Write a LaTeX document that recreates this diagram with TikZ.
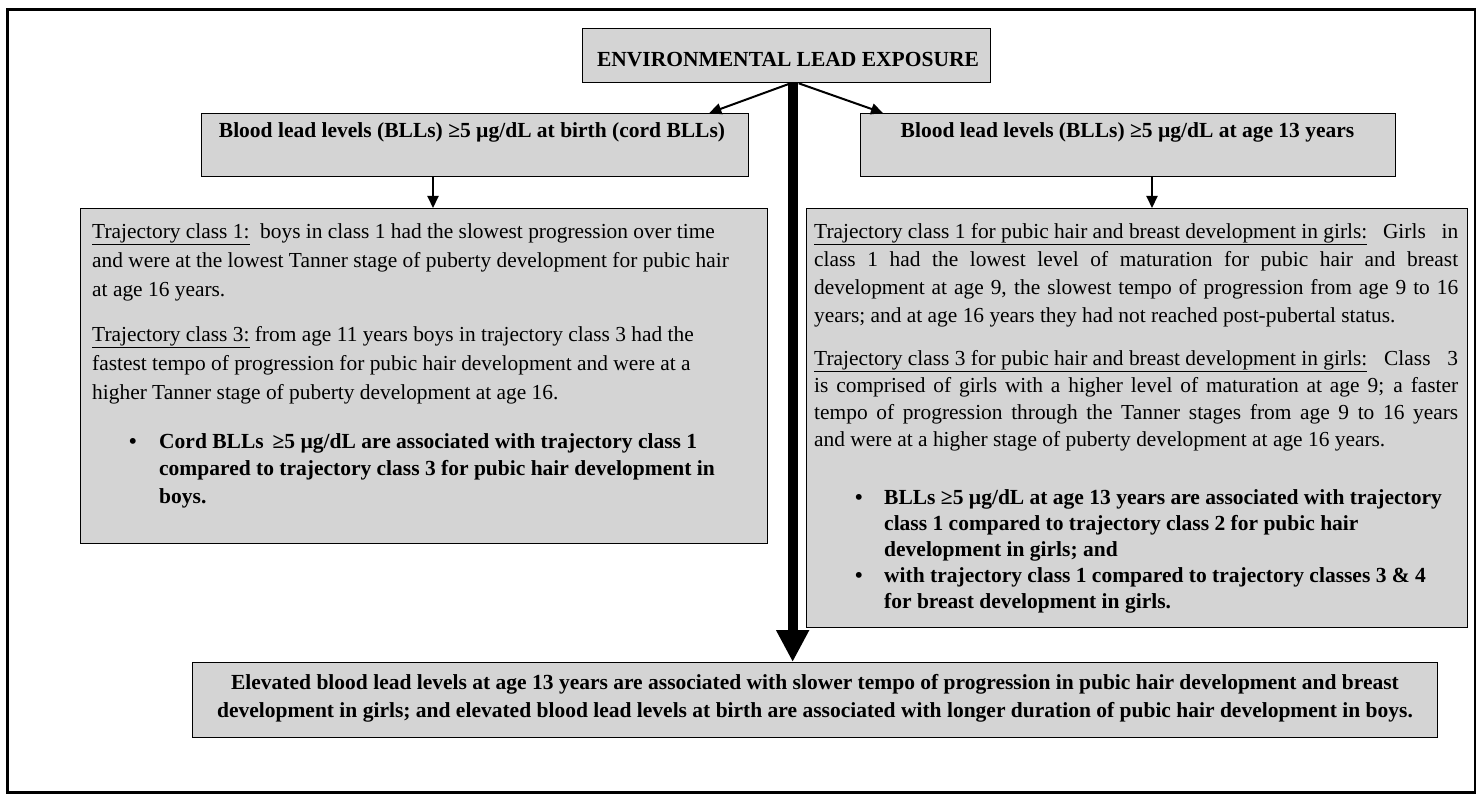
\documentclass[tikz,border=0pt]{standalone}
\usepackage{fontspec}
\setmainfont{Liberation Serif}
\usetikzlibrary{arrows.meta}
\newcommand{\bodyfs}{\fontsize{21.4}{29}\selectfont}
\newcommand{\boldfs}{\fontsize{21.5}{29}\selectfont\bfseries}
\newcommand{\jR}[1]{\makebox[644pt][s]{#1}}
\begin{document}
\begin{tikzpicture}[x=1pt,y=-1pt,
  box/.style={draw=black, line width=1.3pt, fill=black!17, inner sep=0pt, anchor=north west},
  ln/.style={anchor=base west, inner sep=0pt, font=\bodyfs},
  lnb/.style={anchor=base west, inner sep=0pt, font=\boldfs},
  ctr/.style={anchor=base, inner sep=0pt, font=\boldfs},
  arr/.style={line width=2pt, -{Triangle[length=12pt,width=11pt]}},
  bigarr/.style={line width=10pt, -{Triangle[length=32pt,width=31pt]}}
]
\useasboundingbox (0,0) rectangle (1476,797);
\node[draw=black, line width=3pt, minimum width=1468pt, minimum height=782pt, anchor=north west, inner sep=0pt] (frame) at (5.5,8.5) {};
% boxes
\node[box, minimum width=408pt, minimum height=54pt] (title) at (582,28) {};
\node[box, minimum width=547pt, minimum height=63pt] (ls) at (201,113) {};
\node[box, minimum width=535pt, minimum height=63pt] (rs) at (860,113) {};
\node[box, minimum width=687pt, minimum height=335pt] (lb) at (80,208) {};
\node[box, minimum width=661pt, minimum height=419pt] (rb) at (806,208) {};
\node[box, minimum width=1245pt, minimum height=75pt] (bot) at (192,662) {};
% titles
\node[ctr] (tt) at (788,67) {ENVIRONMENTAL LEAD EXPOSURE};
\node[ctr] (lst) at (472,138) {Blood lead levels (BLLs) ≥5 µg/dL at birth (cord BLLs)};
\node[ctr] (rst) at (1127.5,138) {Blood lead levels (BLLs) ≥5 µg/dL at age 13 years};
% left big box
\node[ln] (l1) at (92,238) {\underline{Trajectory class 1:}\ \ boys in class 1 had the slowest progression over time};
\node[ln] (l2) at (92,267) {and were at the lowest Tanner stage of puberty development for pubic hair};
\node[ln] (l3) at (92,296) {at age 16 years.};
\node[ln] (l4) at (92,341) {\underline{Trajectory class 3:} from age 11 years boys in trajectory class 3 had the};
\node[ln] (l5) at (92,370) {fastest tempo of progression for pubic hair development and were at a};
\node[ln] (l6) at (92,399) {higher Tanner stage of puberty development at age 16.};
\node[lnb] (l7d) at (129,448) {•};
\node[lnb] (l7) at (159,448) {Cord BLLs \,≥5 µg/dL are associated with trajectory class 1};
\node[lnb] (l8) at (159,475.5) {compared to trajectory class 3 for pubic hair development in};
\node[lnb] (l9) at (159,503) {boys.};
% right big box
\node[ln] (r1) at (814,238) {\jR{\underline{Trajectory class 1 for pubic hair and breast development in girls:} Girls in}};
\node[ln] (r2) at (814,266) {\jR{class 1 had the lowest level of maturation for pubic hair and breast}};
\node[ln] (r3) at (814,294) {\jR{development at age 9, the slowest tempo of progression from age 9 to 16}};
\node[ln] (r4) at (814,322) {years; and at age 16 years they had not reached post-pubertal status.};
\node[ln] (r5) at (814,365) {\jR{\underline{Trajectory class 3 for pubic hair and breast development in girls:} Class 3}};
\node[ln] (r6) at (814,392) {\jR{is comprised of girls with a higher level of maturation at age 9; a faster}};
\node[ln] (r7) at (814,419) {\jR{tempo of progression through the Tanner stages from age 9 to 16 years}};
\node[ln] (r8) at (814,446) {and were at a higher stage of puberty development at age 16 years.};
\node[lnb] (r9d) at (855,504) {•};
\node[lnb] (r9) at (884,504) {BLLs ≥5 µg/dL at age 13 years are associated with trajectory};
\node[lnb] (r10) at (884,530) {class 1 compared to trajectory class 2 for pubic hair};
\node[lnb] (r11) at (884,556) {development in girls; and};
\node[lnb] (r12d) at (855,582) {•};
\node[lnb] (r12) at (884,582) {with trajectory class 1 compared to trajectory classes 3 \& 4};
\node[lnb] (r13) at (884,608) {for breast development in girls.};
% bottom box
\node[ctr] (b1) at (815,689) {Elevated blood lead levels at age 13 years are associated with slower tempo of progression in pubic hair development and breast};
\node[ctr] (b2) at (815,717) {development in girls; and elevated blood lead levels at birth are associated with longer duration of pubic hair development in boys.};
% connectors
\coordinate (ta) at ([xshift=6pt]title.south);
\draw[arr] ([xshift=4pt]title.south) -- ([xshift=-40pt]ls.north east);
\draw[arr] ([xshift=12pt]title.south) -- ([xshift=23pt]rs.north west);
\draw[arr] ([xshift=232pt]ls.south west) -- ([xshift=353pt]lb.north west);
\draw[arr] ([xshift=292pt]rs.south west) -- ([xshift=346pt]rb.north west);
\draw[bigarr] (ta) -- (bot.north -| ta);
\end{tikzpicture}
\end{document}
